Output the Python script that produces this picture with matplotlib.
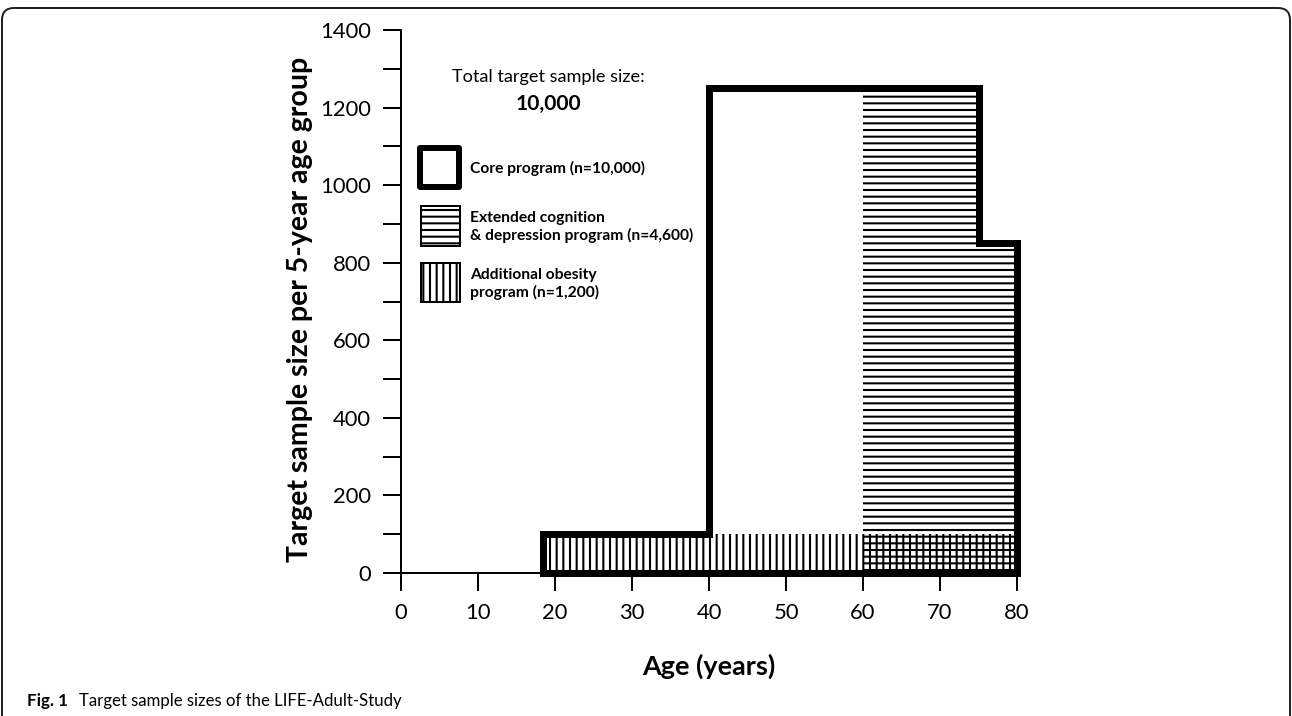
import matplotlib
matplotlib.use("Agg")
import matplotlib.pyplot as plt
from matplotlib.patches import Polygon, Rectangle, PathPatch
from matplotlib.path import Path
from matplotlib.transforms import IdentityTransform
import numpy as np

# ---- data ----
core_edges = [18.5, 40, 75, 80]
core_values = [100, 1250, 850]
ext_edges = [60, 75, 80]
ext_values = [1250, 850]
obes_edges = [18.5, 80]
obes_values = [100]
xticks = [0, 10, 20, 30, 40, 50, 60, 70, 80]
yticks = [0, 200, 400, 600, 800, 1000, 1200, 1400]
legend_labels = ["Core program (n=10,000)",
                 "Extended cognition\n& depression program (n=4,600)",
                 "Additional obesity\nprogram (n=1,200)"]

DPI = 200
W, H = 1292, 716
FONT = "Lato"
plt.rcParams['font.family'] = [FONT, 'DejaVu Sans']
plt.rcParams['hatch.linewidth'] = 0.75

def pt(px):
    return px * 72.0 / DPI

fig = plt.figure(figsize=(W / DPI, H / DPI), dpi=DPI)
ax = fig.add_axes([401 / W, (H - 573) / H, (1017 - 401) / W, (573 - 30) / H])
ax.set_xlim(0, 80)
ax.set_ylim(0, 1400)
for s in ['top', 'right']:
    ax.spines[s].set_visible(False)
for s in ['left', 'bottom']:
    ax.spines[s].set_linewidth(pt(2))
ax.set_xticks(xticks)
ax.set_yticks(yticks)
ax.set_yticks(np.arange(100, 1400, 200), minor=True)
ax.tick_params(axis='both', which='both', direction='out', length=pt(18), width=pt(2),
               labelsize=pt(22), pad=pt(12))
ax.tick_params(axis='x', which='minor', bottom=False)

# hatched areas
ax.bar(ext_edges[:-1], ext_values, width=np.diff(ext_edges), align='edge',
       fill=False, edgecolor='black', linewidth=0, hatch='-----', zorder=2)
ax.bar(obes_edges[:-1], obes_values, width=np.diff(obes_edges), align='edge',
       fill=False, edgecolor='black', linewidth=0, hatch='|||||', zorder=2)

# core outline
pts = [(core_edges[0], 0)]
for i, v in enumerate(core_values):
    pts.append((core_edges[i], v))
    pts.append((core_edges[i + 1], v))
pts.append((core_edges[-1], 0))
ax.add_patch(Polygon(pts, closed=True, fill=False, edgecolor='black',
                     linewidth=pt(7), joinstyle='miter', zorder=3, clip_on=False))

def d(px, py):
    return (px - 401) / 7.7, (573 - py) / (543 / 1400)

# annotation
tx, ty = d(548, 77)
ax.text(tx, ty, "Total target sample size:", ha='center', va='center', fontsize=pt(18.2))
tx, ty = d(548, 104)
ax.text(tx, ty, "10,000", ha='center', va='center', fontsize=pt(21), fontweight='bold')

# legend (manual)
x0, y0 = d(420, 187)
x1, y1 = d(459, 148)
ax.add_patch(Rectangle((x0, y0), x1 - x0, y1 - y0, fill=False, edgecolor='black',
                       linewidth=pt(6), joinstyle='round', zorder=3))
x0, y0 = d(421, 246)
x1, y1 = d(460, 206)
ax.add_patch(Rectangle((x0, y0), x1 - x0, y1 - y0, fill=False, edgecolor='black',
                       linewidth=pt(2), hatch='-----', zorder=3))
x0, y0 = d(421, 302)
x1, y1 = d(460, 263)
ax.add_patch(Rectangle((x0, y0), x1 - x0, y1 - y0, fill=False, edgecolor='black',
                       linewidth=pt(2), hatch='|||||', zorder=3))
for (px, py), lab in zip([(470, 168), (470, 227), (470, 284)], legend_labels):
    tx, ty = d(px, py)
    ax.text(tx, ty, lab, ha='left', va='center', fontsize=pt(15.6), fontweight='bold',
            linespacing=1.25)

ax.set_ylabel("Target sample size per 5-year age group", fontsize=pt(28.5),
              fontweight='bold')
ax.yaxis.set_label_coords((300 - 401) / 616, (573 - 309) / 543)
ax.set_xlabel("Age (years)", fontsize=pt(27), fontweight='bold')
ax.xaxis.set_label_coords((709 - 401) / 616, -(666 - 573) / 543)
ax.xaxis.label.set_va('center')
ax.yaxis.label.set_va('center')

# caption
fig.text(27 / W, 1 - 701 / H, "Fig. 1", fontsize=pt(17), fontweight='bold',
         ha='left', va='center')
fig.text(79 / W, 1 - 701 / H, "Target sample sizes of the LIFE-Adult-Study",
         fontsize=pt(16.8), ha='left', va='center')

# frame (rounded top, open bottom)
r = 12
L, R, T, B = 2, 1290, 8, 760
verts = [(L, H - B), (L, H - T - r), (L, H - T), (L + r, H - T), (R - r, H - T),
         (R, H - T), (R, H - T - r), (R, H - B)]
codes = [Path.MOVETO, Path.LINETO, Path.CURVE3, Path.CURVE3, Path.LINETO,
         Path.CURVE3, Path.CURVE3, Path.LINETO]
fig.patches.append(PathPatch(Path(verts, codes), transform=IdentityTransform(),
                             fill=False, edgecolor='#222222', linewidth=pt(2)))

fig.savefig("out.png", dpi=DPI)
